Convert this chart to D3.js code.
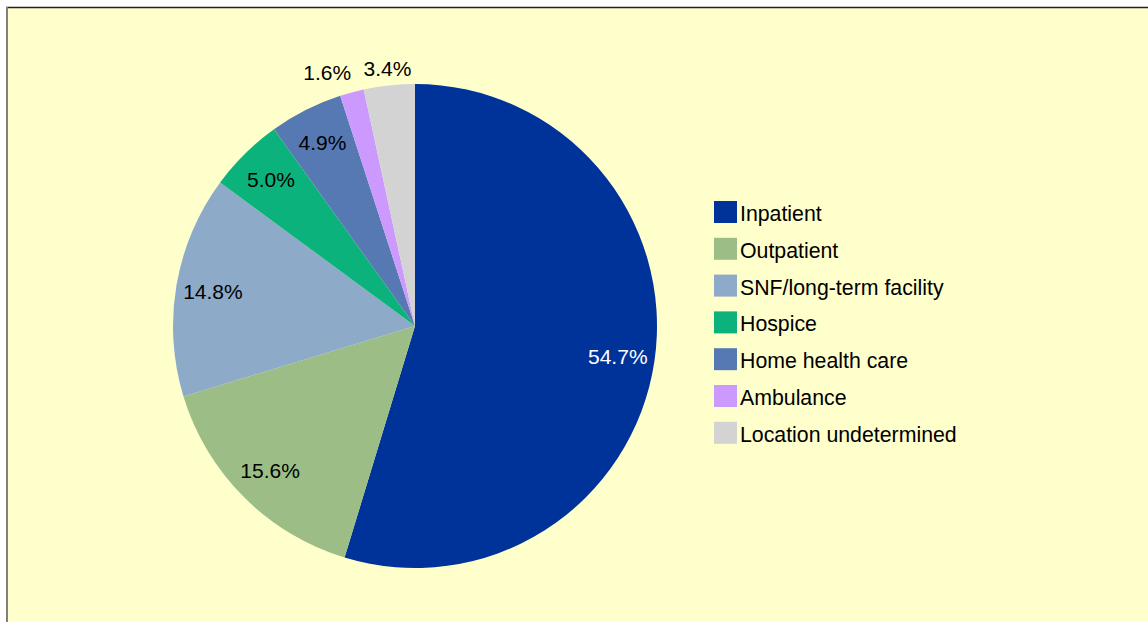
<!DOCTYPE html>
<html>
<head>
<meta charset="utf-8">
<script src="https://cdn.jsdelivr.net/npm/d3@7"></script>
<style>
  html, body { margin: 0; padding: 0; background: #fff; }
  svg { display: block; }
  text { font-family: Arial, "Liberation Sans", sans-serif; }
</style>
</head>
<body>
<div id="chart"></div>
<script>
// chart data
var categories = ["Inpatient", "Outpatient", "SNF/long-term facility", "Hospice",
  "Home health care", "Ambulance", "Location undetermined"]
var shares = [54.7, 15.6, 14.8, 5.0, 4.9, 1.6, 3.4]
var labels = ["54.7%", "15.6%", "14.8%", "5.0%", "4.9%", "1.6%", "3.4%"]
var colors = ["#003399", "#9cbe86", "#8daac9", "#0bb27b", "#5779b3", "#cc99ff", "#d3d3d3"]

width = 1148
height = 622
var cx = 415, cy = 326, rad = 242

var svg = d3.select('#chart').append('svg')
  .attr('width', width)
  .attr('height', height)

// plot area background + border
svg.append('rect')
  .attr('x', 7).attr('y', 8)
  .attr('width', width - 7).attr('height', height - 8)
  .attr('fill', '#ffffcc')
svg.append('line')
  .attr('x1', 6).attr('x2', width).attr('y1', 7.5).attr('y2', 7.5)
  .attr('stroke', '#222').attr('stroke-width', 1.5)
svg.append('line')
  .attr('x1', 7).attr('x2', 7).attr('y1', 7).attr('y2', height)
  .attr('stroke', '#808080').attr('stroke-width', 2)

var pie = d3.pie().sort(null).value(function(d){ return d })
var arcs = pie(shares)

var arc = d3.arc().innerRadius(0).outerRadius(rad)
var inLabel = d3.arc().innerRadius(205).outerRadius(205)
var outLabel = d3.arc().innerRadius(259).outerRadius(259)
var ambLabel = d3.arc().innerRadius(268).outerRadius(268)

var g = svg.append('g').attr('transform', 'translate(' + cx + ',' + cy + ')')

g.selectAll('path').data(arcs).enter().append('path')
  .attr('d', arc)
  .attr('fill', function(d, i){ return colors[i] })

// small slices get labels outside
g.selectAll('text.pct').data(arcs).enter().append('text')
  .attr('class', 'pct')
  .attr('transform', function(d){
    var p = inLabel.centroid(d)
    if (d.index == 6) p = outLabel.centroid(d)
    if (d.index == 5) {
      // nudge ambulance label left so it clears the 3.4% label
      p = ambLabel.centroid({startAngle: d.startAngle - 0.07, endAngle: d.endAngle - 0.07})
    }
    return 'translate(' + p[0] + ',' + p[1] + ')'
  })
  .attr('text-anchor', 'middle')
  .attr('dy', '0.35em')
  .attr('font-size', 21)
  .attr('fill', function(d){ return d.index == 0 ? '#fff' : '#000' })
  .text(function(d, i){ return labels[i] })

// legend
var legend = svg.append('g').attr('transform', 'translate(714,201)')
var rows = legend.selectAll('g').data(categories).enter().append('g')
  .attr('transform', function(d, i){ return 'translate(0,' + (i * 36.8) + ')' })
rows.append('rect')
  .attr('width', 23).attr('height', 22)
  .attr('fill', function(d, i){ return colors[i] })
rows.append('text')
  .attr('x', 26).attr('y', 20)
  .attr('font-size', 21.3)
  .attr('fill', '#000')
  .text(function(d){ return d })
</script>
</body>
</html>
